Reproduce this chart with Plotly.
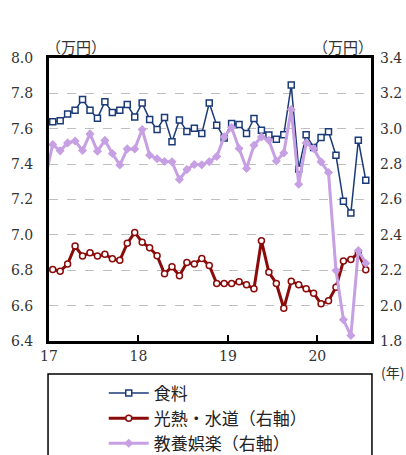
import plotly.graph_objects as go

# Monthly data Jan 2017 .. Jul 2020 (x = year + (month-0.5)/12)
years = [2017]*12 + [2018]*12 + [2019]*12 + [2020]*7
months = list(range(1, 13))*3 + list(range(1, 8))

food = [7.64, 7.645, 7.683, 7.705, 7.766, 7.705, 7.66, 7.752, 7.692, 7.705, 7.737, 7.666,
        7.745, 7.653, 7.596, 7.664, 7.526, 7.65, 7.585, 7.603, 7.573, 7.745, 7.62, 7.548,
        7.63, 7.624, 7.573, 7.658, 7.592, 7.564, 7.541, 7.566, 7.847, 7.373, 7.566, 7.494,
        7.55, 7.583, 7.45, 7.19, 7.124, 7.535, 7.309]
utility = [2.204, 2.195, 2.235, 2.337, 2.28, 2.299, 2.28, 2.29, 2.265, 2.256, 2.352, 2.414,
           2.359, 2.327, 2.282, 2.18, 2.22, 2.169, 2.244, 2.235, 2.267, 2.227, 2.125, 2.125,
           2.125, 2.135, 2.118, 2.095, 2.367, 2.188, 2.125, 1.985, 2.138, 2.118, 2.095, 2.07,
           2.01, 2.027, 2.104, 2.252, 2.261, 2.297, 2.203]
# education/recreation, starting Dec 2016 (partly outside the axis)
edu_prev_dec2016 = 2.72
edu = [2.911, 2.875, 2.92, 2.931, 2.877, 2.971, 2.873, 2.934, 2.86, 2.795, 2.886, 2.886,
       2.996, 2.85, 2.83, 2.815, 2.813, 2.713, 2.769, 2.798, 2.796, 2.814, 2.843, 2.954,
       3.007, 2.888, 2.775, 2.907, 2.954, 2.935, 2.818, 2.863, 3.109, 2.686, 2.92, 2.888,
       2.813, 2.752, 2.199, 1.92, 1.831, 2.312, 2.24]

names = ["食料", "光熱・水道（右軸）", "教養娯楽（右軸）"]
xtick_vals = [17, 18, 19, 20]
xtick_text = ["17", "18", "19", "20"]

x = [(y - 2000) + (m - 0.5) / 12 for y, m in zip(years, months)]
x_edu = [17 - 0.5 / 12] + x
edu_full = [edu_prev_dec2016] + edu

navy = "#1B3A78"
red = "#8B0A0A"
purple = "#C79FE3"

fig = go.Figure()
fig.add_trace(go.Scatter(x=x, y=food, name=names[0], mode="lines+markers",
                         line=dict(color=navy, width=1.5),
                         marker=dict(symbol="square", size=6, color="white",
                                     line=dict(color=navy, width=1.5))))
fig.add_trace(go.Scatter(x=x, y=utility, name=names[1], mode="lines+markers", yaxis="y2",
                         line=dict(color=red, width=3),
                         marker=dict(symbol="circle", size=6, color="white",
                                     line=dict(color=red, width=1.5))))
fig.add_trace(go.Scatter(x=x_edu, y=edu_full, name=names[2], mode="lines+markers", yaxis="y2",
                         line=dict(color=purple, width=3),
                         marker=dict(symbol="diamond", size=7, color=purple)))

tickfont = dict(family="DejaVu Serif", size=14, color="#333")
cjk = "Noto Sans CJK JP"

fig.update_layout(
    width=406, height=455,
    margin=dict(l=49, r=35, t=58, b=114, autoexpand=False),
    paper_bgcolor="white", plot_bgcolor="white",
    showlegend=True,
    xaxis=dict(range=[17, 20.6], tickvals=xtick_vals, ticktext=xtick_text,
               ticks="inside", ticklen=6, tickwidth=1.5, tickcolor="black",
               showgrid=False, zeroline=False,
               showline=True, linewidth=3, linecolor="black", mirror=True,
               tickfont=tickfont),
    yaxis=dict(range=[6.4, 8.0], dtick=0.2, tickformat=".1f",
               showgrid=True, gridcolor="#BFBFBF", griddash="dash", gridwidth=1,
               zeroline=False, showline=True, linewidth=3, linecolor="black", mirror=True,
               ticks="", tickfont=tickfont, ticklabelstandoff=10),
    yaxis2=dict(range=[1.8, 3.4], dtick=0.2, tickformat=".1f", overlaying="y", side="right",
                showgrid=False, zeroline=False, ticks="", tickfont=tickfont,
                ticklabelstandoff=8),
    legend=dict(x=0.17, y=-0.122, xanchor="left", yanchor="top",
                bgcolor="rgba(0,0,0,0)", borderwidth=0,
                font=dict(family=cjk, size=17, color="#222"),
                tracegroupgap=0, itemwidth=40),
    font=dict(family=cjk),
)

fig.add_shape(type="rect", xref="paper", yref="paper",
              x0=-0.003, x1=1.003, y0=-0.117, y1=-0.45,
              line=dict(color="black", width=1.5), fillcolor="rgba(0,0,0,0)", layer="below")

fig.add_annotation(text="（万円）", xref="paper", yref="paper", x=0.084, y=1.042,
                   xanchor="center", yanchor="middle", showarrow=False,
                   font=dict(family=cjk, size=15, color="#333"))
fig.add_annotation(text="（万円）", xref="paper", yref="paper", x=0.913, y=1.042,
                   xanchor="center", yanchor="middle", showarrow=False,
                   font=dict(family=cjk, size=15, color="#333"))
fig.add_annotation(text="(年)", xref="paper", yref="paper", x=1.025, y=-0.11,
                   xanchor="left", yanchor="middle", showarrow=False,
                   font=dict(family=cjk, size=14, color="#333"))

fig.write_html("out.html")
